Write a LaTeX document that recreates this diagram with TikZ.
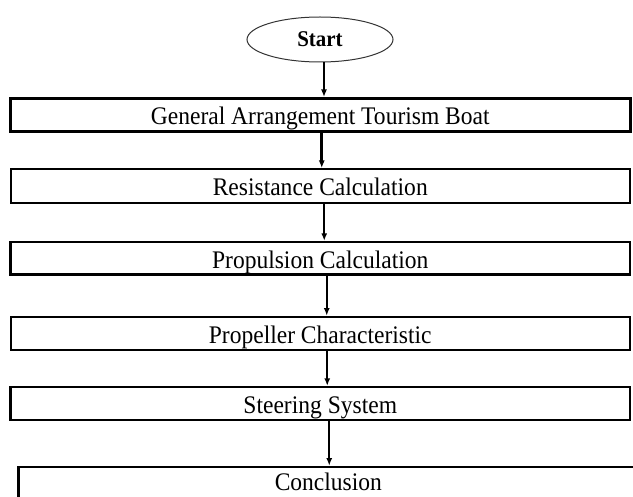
\documentclass[tikz,border=0pt]{standalone}
\usepackage{fontspec}
\setmainfont{Liberation Serif}[FakeStretch=0.93]
\usetikzlibrary{shapes.geometric,arrows.meta}

\begin{document}
\begin{tikzpicture}
[x=1pt,y=-1pt,
  startdecorate/.style={shape=ellipse,draw=black!80,line width=1pt,
    minimum width=146pt,minimum height=45pt,inner sep=0pt,
    text height=14pt,text depth=0pt,
    font=\fontsize{22.5}{22.5}\selectfont\bfseries},
  boxdecorate/.style={shape=rectangle,draw,minimum width=619.5pt,
    inner sep=0pt,text height=20pt,text depth=0pt,
    font=\fontsize{25.3}{25.3}\selectfont},
  linedecorate/.style={-{Latex[length=7.5pt,width=6pt]},line width=1.6pt}]
\clip (0,0) rectangle (633,497);
%% start
\node (start) at (320,39.5) [startdecorate] {Start};
%% steps
\foreach \nodename/\y/\h/\w/\steptext in {
  arrangement/115/33/3/General Arrangement Tourism Boat,
  resistance/186/34/2/Resistance Calculation,
  propulsion/258.2/32.5/2.3/Propulsion Calculation,
  propeller/333.2/33/2/Propeller Characteristic,
  steering/403.5/33/2.3/Steering System}
{
  \node (\nodename) at (320.25,\y) [boxdecorate,minimum height=\h pt,
    line width=\w pt] {\steptext};
}
%% last step runs off the page
\node (conclusion) at (17,465.7) [boxdecorate,anchor=north west,
  minimum width=620pt,line width=2.7pt,text height=23.3pt,
  text depth=30pt] {Conclusion};
%% arrows
\foreach \startnode/\endnode/\dx/\w in {
  start/arrangement/4/1.6, arrangement/resistance/1.5/2.7,
  resistance/propulsion/4/1.6, propulsion/propeller/6.5/1.6,
  propeller/steering/7/1.6, steering/conclusion/9/1.6}
{
  \draw[linedecorate,line width=\w pt] ([xshift=\dx pt]\startnode.south)
    -- ([xshift=\dx pt]\startnode.south |- \endnode.north);
}
\end{tikzpicture}
\end{document}
